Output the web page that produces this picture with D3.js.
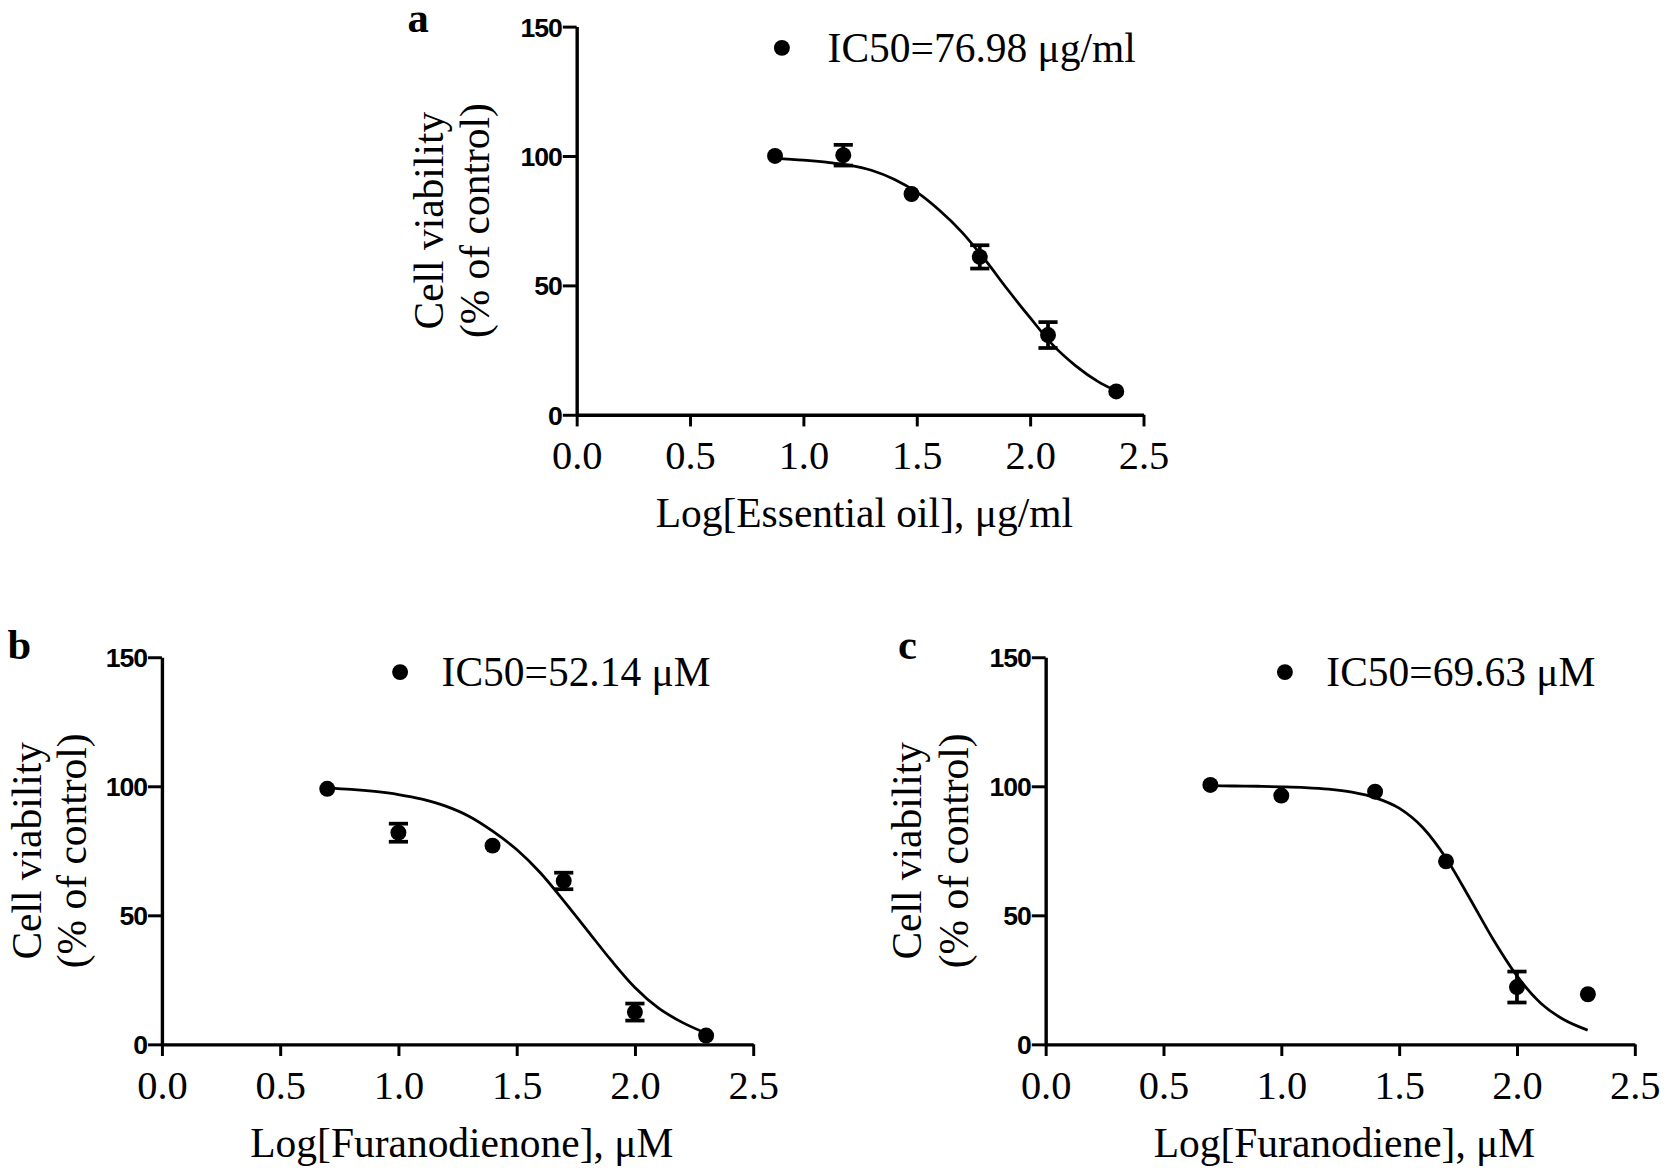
<!DOCTYPE html>
<html><head><meta charset="utf-8">
<script src="https://cdn.jsdelivr.net/npm/d3@7/dist/d3.min.js"></script>
<style>body{margin:0;background:#fff}</style>
</head><body>
<svg id="chart" width="1668" height="1173" viewBox="0 0 1568 1103"></svg>
<script>
// ---------- data ----------
const xTicks = [0.0, 0.5, 1.0, 1.5, 2.0, 2.5];
const yTicks = [0, 50, 100, 150];

const aX = [0.875, 1.176, 1.477, 1.778, 2.079, 2.380];
const aY = [100, 100.3, 85.3, 61, 30.8, 9];
const aErr = [0, 4, 0, 4.5, 5, 0];
const aCurveX = [0.875, 1.0, 1.1, 1.2, 1.3, 1.4, 1.5, 1.6, 1.7, 1.8, 1.9, 2.0, 2.1, 2.2, 2.3, 2.38];
const aCurveY = [99.1, 98.4, 97.6, 96.5, 94.5, 91, 86, 79, 70.5, 60, 48.5, 37.5, 27, 19, 12.8, 9.2];

const bX = [0.699, 1.0, 1.398, 1.699, 2.0, 2.301];
const bY = [99, 82, 77, 63.3, 12.5, 3.4];
const bErr = [0, 3.5, 0, 3.2, 3.3, 0];
const bCurveX = [0.699, 0.8, 0.9, 1.0, 1.1, 1.2, 1.3, 1.4, 1.5, 1.6, 1.7, 1.8, 1.9, 2.0, 2.1, 2.2, 2.301];
const bCurveY = [99.3, 98.8, 98, 96.8, 95, 92.3, 88.3, 82.5, 75.5, 66.5, 55.5, 44, 32.5, 22, 14, 8.5, 4.3];

const cX = [0.699, 1.0, 1.398, 1.699, 2.0, 2.301];
const cY = [100.5, 96.4, 97.9, 70.9, 22.2, 19.4];
const cErr = [0, 0, 0, 0, 6, 0];
const cCurveX = [0.699, 0.8, 0.9, 1.0, 1.1, 1.2, 1.3, 1.4, 1.5, 1.6, 1.7, 1.8, 1.9, 2.0, 2.1, 2.2, 2.3];
const cCurveY = [100.2, 100.1, 100, 99.8, 99.5, 98.9, 97.7, 95.5, 91.5, 84, 72, 56.5, 40.5, 26.5, 16, 9.5, 5.5];

const panelLetters = ["a", "b", "c"];
const legendTexts = ["IC50=76.98 \u03bcg/ml", "IC50=52.14 \u03bcM", "IC50=69.63 \u03bcM"];
const xTitles = ["Log[Essential oil], \u03bcg/ml", "Log[Furanodienone], \u03bcM", "Log[Furanodiene], \u03bcM"];
const yTitleLines = ["Cell viability", "(% of control)"];

// ---------- layout ----------
const panels = [
  {x0: 542, x1: 1075, yT: 25, yB: 390, lab: [393, 30], dotX: 193, dotY: 20, txtX: 236, ytX: [403, 447],
   X: aX, Y: aY, E: aErr, CX: aCurveX, CY: aCurveY},
  {x0: 152, x1: 708, yT: 618, yB: 982, lab: [18, 620], dotX: 224, dotY: 14, txtX: 263, ytX: [25, 68],
   X: bX, Y: bY, E: bErr, CX: bCurveX, CY: bCurveY},
  {x0: 983, x1: 1537, yT: 618, yB: 982, lab: [853, 620], dotX: 225, dotY: 14, txtX: 264, ytX: [853, 897],
   X: cX, Y: cY, E: cErr, CX: cCurveX, CY: cCurveY}
];

const svg = d3.select("#chart");
const serif = "'Liberation Serif','Times New Roman',serif";
const sans = "'Liberation Sans',Arial,sans-serif";

panels.forEach((p, i) => {
  const x = d3.scaleLinear().domain([0, 2.5]).range([p.x0, p.x1]);
  const y = d3.scaleLinear().domain([0, 150]).range([p.yB, p.yT]);
  const g = svg.append("g");

  // y axis
  const ya = g.append("g").attr("transform", `translate(${p.x0},0)`)
    .call(d3.axisLeft(y).tickValues(yTicks).tickSize(13).tickSizeOuter(0).tickPadding(1).tickFormat(d3.format("d")));
  ya.select(".domain").attr("stroke", "#000").attr("stroke-width", 3.2);
  ya.selectAll(".tick line").attr("stroke", "#000").attr("stroke-width", 2.8);
  ya.selectAll(".tick text").attr("font-family", sans).attr("font-weight", "bold")
    .attr("font-size", 25).attr("fill", "#000").attr("dy", "0.36em").attr("letter-spacing", -1);

  // x axis
  const xa = g.append("g").attr("transform", `translate(0,${p.yB})`)
    .call(d3.axisBottom(x).tickValues(xTicks).tickSize(11).tickSizeOuter(0).tickPadding(13).tickFormat(d3.format(".1f")));
  xa.select(".domain").attr("stroke", "#000").attr("stroke-width", 3.2);
  xa.selectAll(".tick line").attr("stroke", "#000").attr("stroke-width", 2.8);
  xa.selectAll(".tick text").attr("font-family", serif).attr("font-size", 38).attr("fill", "#000");

  // curve
  const line = d3.line().x(d => x(d[0])).y(d => y(d[1])).curve(d3.curveMonotoneX);
  g.append("path").datum(d3.zip(p.CX, p.CY)).attr("d", line)
    .attr("fill", "none").attr("stroke", "#000").attr("stroke-width", 2.6);

  // error bars
  const pts = d3.zip(p.X, p.Y, p.E);
  pts.filter(d => d[2] > 0).forEach(d => {
    const cx = x(d[0]), top = y(d[1] + d[2]), bot = y(d[1] - d[2]);
    g.append("line").attr("x1", cx).attr("x2", cx).attr("y1", top).attr("y2", bot)
      .attr("stroke", "#000").attr("stroke-width", 3.5);
    [top, bot].forEach(yy => g.append("line").attr("x1", cx - 9).attr("x2", cx + 9)
      .attr("y1", yy).attr("y2", yy).attr("stroke", "#000").attr("stroke-width", 3.5));
  });
  // points
  g.selectAll("circle.pt").data(pts).enter().append("circle")
    .attr("cx", d => x(d[0])).attr("cy", d => y(d[1])).attr("r", 7.5).attr("fill", "#000");

  // legend
  g.append("circle").attr("cx", p.x0 + p.dotX).attr("cy", p.yT + p.dotY).attr("r", 7.5).attr("fill", "#000");
  g.append("text").attr("x", p.x0 + p.txtX).attr("y", p.yT + p.dotY + 13)
    .attr("font-family", serif).attr("font-size", 39).text(legendTexts[i]);

  // x title
  g.append("text").attr("x", (p.x0 + p.x1) / 2 + 4).attr("y", p.yB + 106).attr("text-anchor", "middle")
    .attr("font-family", serif).attr("font-size", 39).text(xTitles[i]);

  // y title
  const cy = (p.yT + p.yB) / 2;
  yTitleLines.forEach((t, j) => {
    g.append("text").attr("transform", `translate(${p.ytX[j] + 13},${cy}) rotate(-90)`)
      .attr("text-anchor", "middle").attr("font-family", serif).attr("font-size", 39).text(t);
  });

  // panel letter
  svg.append("text").attr("x", p.lab[0]).attr("y", p.lab[1]).attr("text-anchor", "middle")
    .attr("font-family", serif).attr("font-weight", "bold").attr("font-size", 40).text(panelLetters[i]);
});
</script>
</body></html>
